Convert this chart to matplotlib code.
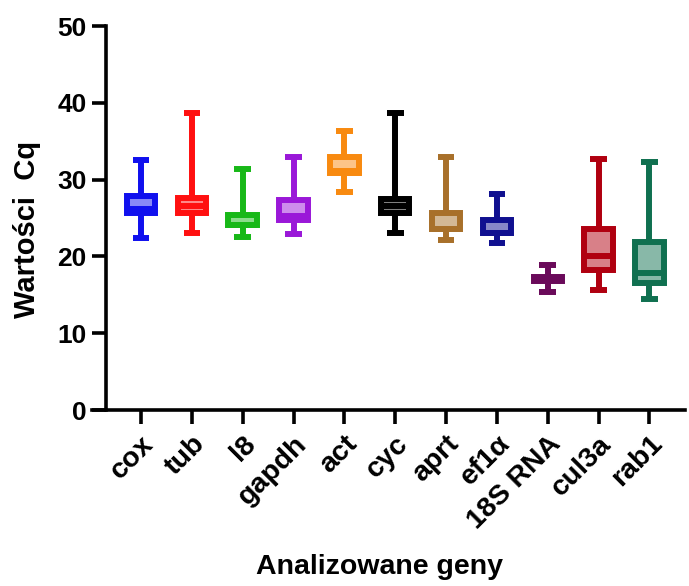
import matplotlib
matplotlib.use("Agg")
import matplotlib.pyplot as plt
from matplotlib.colors import to_rgb

plt.rcParams['font.family'] = ['Liberation Sans', 'DejaVu Sans']
plt.rcParams['font.weight'] = 'bold'

genes = ["cox", "tub", "l8", "gapdh", "act", "cyc", "aprt", "ef1\u03b1", "18S RNA", "cul3a", "rab1"]
whis_lo = [22.4, 23.0, 22.5, 22.9, 28.4, 23.0, 22.2, 21.8, 15.4, 15.6, 14.4]
q1 = [25.6, 25.6, 24.1, 24.7, 30.8, 25.6, 23.6, 23.1, 16.8, 18.2, 16.5]
median = [26.2, 26.5, 24.1, 25.2, 31.1, 26.5, 23.6, 23.1, 17.0, 20.0, 17.8]
q3 = [27.8, 27.6, 25.4, 27.4, 33.0, 27.5, 25.7, 24.7, 17.3, 23.6, 21.9]
whis_hi = [32.5, 38.7, 31.4, 32.9, 36.3, 38.7, 33.0, 28.1, 18.9, 32.7, 32.3]
colors = ["#1010ee", "#ff1010", "#18b818", "#9a18d8", "#f88a10", "#000000",
          "#a8702a", "#101090", "#6a0a5a", "#b00010", "#107050"]


def lighten(c, f):
    r, g, b = to_rgb(c)
    return (r + (1 - r) * f, g + (1 - g) * f, b + (1 - b) * f)


stats = []
for i, g in enumerate(genes):
    stats.append({"label": g, "whislo": whis_lo[i], "q1": q1[i], "med": median[i],
                  "q3": q3[i], "whishi": whis_hi[i]})

fig = plt.figure(figsize=(6.89, 5.86), dpi=100)
ax = fig.add_axes([92 / 689, 1 - 410 / 586, (685 - 92) / 689, 384 / 586])

lw = 4.3
for i, s in enumerate(stats):
    c = colors[i]
    ax.bxp([s], positions=[i + 1], widths=0.56, showfliers=False, patch_artist=True,
           boxprops=dict(facecolor=lighten(c, 0.5), edgecolor=c, linewidth=lw),
           medianprops=dict(color=c, linewidth=lw, solid_capstyle='butt'),
           whiskerprops=dict(color=c, linewidth=lw, solid_capstyle='butt'),
           capprops=dict(color=c, linewidth=lw, solid_capstyle='butt'),
           capwidths=0.33)

ax.set_xlim(0.035, 11.7)
ax.set_ylim(0, 50)
ax.spines['left'].set_position(('data', 0.31))
ax.spines['left'].set_bounds(0, 50)
ax.spines['top'].set_visible(False)
ax.spines['right'].set_visible(False)
for sp in ['left', 'bottom']:
    ax.spines[sp].set_linewidth(2.6)

ax.set_yticks([0, 10, 20, 30, 40, 50])
ax.set_xticks(range(1, len(genes) + 1))
ax.set_xticklabels(genes, rotation=45, ha='right', rotation_mode='anchor')
ax.tick_params(axis='both', width=2.6, length=10, labelsize=19, direction='out')
ax.tick_params(axis='x', pad=5, labelsize=20.5)
ax.tick_params(axis='y', pad=4)
for lab in ax.get_xticklabels() + ax.get_yticklabels():
    lab.set_fontweight('bold')

fig.text(27 / 689, 1 - 229 / 586, "Warto\u015bci  Cq", fontsize=21, fontweight='bold',
         rotation=90, ha='center', va='center')
fig.text(380 / 689, 1 - 567 / 586, "Analizowane geny", fontsize=20.5, fontweight='bold',
         ha='center', va='center')

fig.savefig("out.png", dpi=100)
